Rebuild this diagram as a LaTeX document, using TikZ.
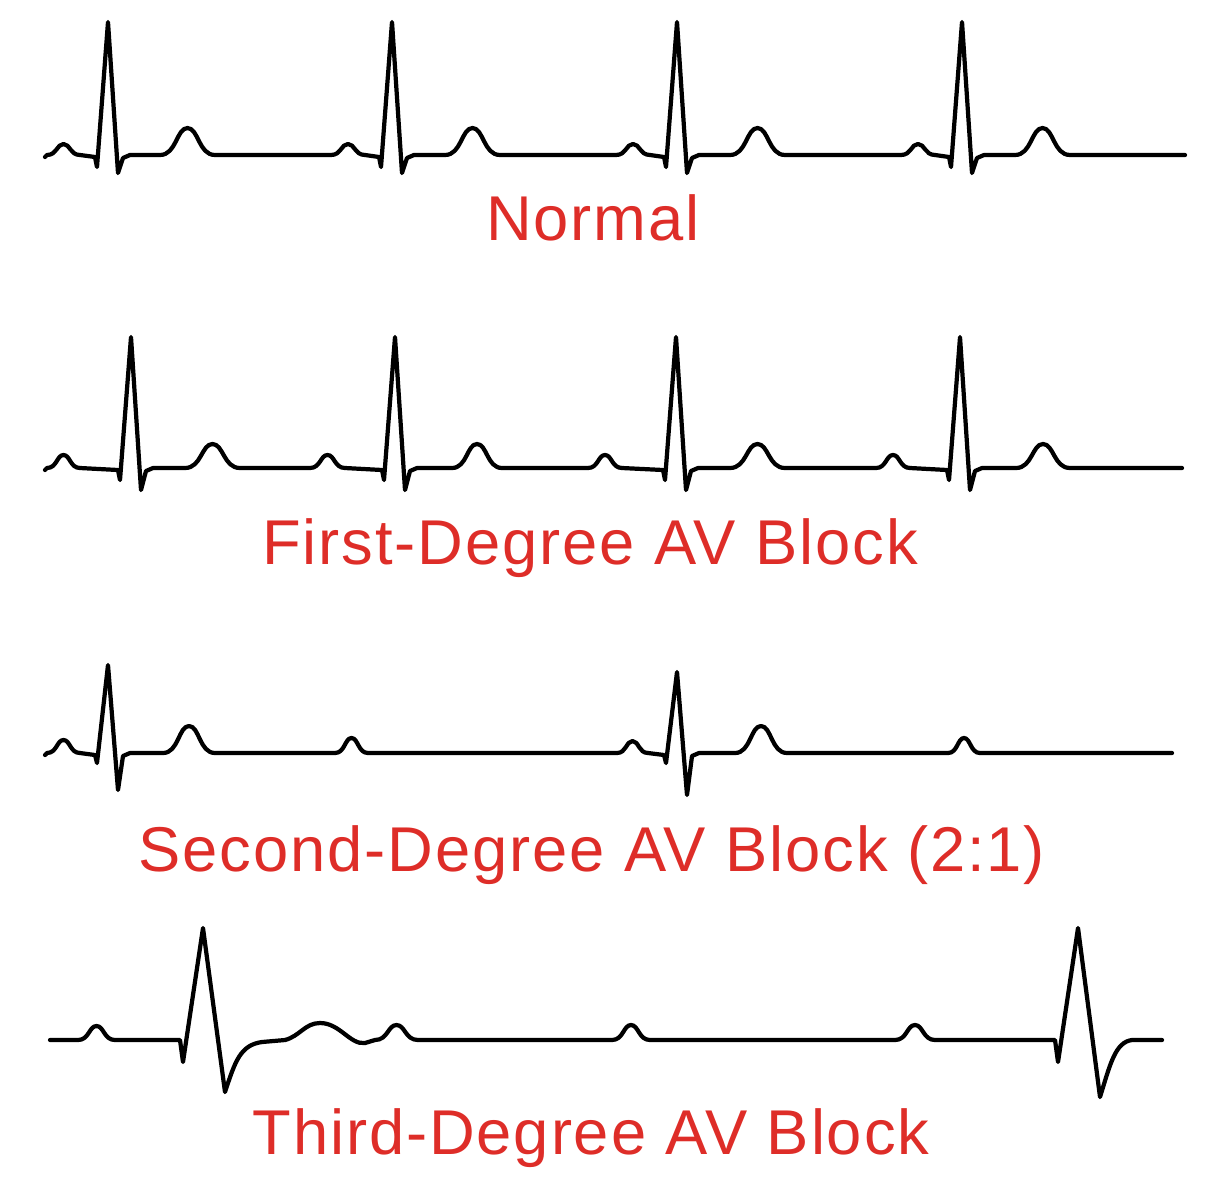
\documentclass[tikz,border=0pt]{standalone}
\usepackage{fontspec}
\setmainfont{Liberation Sans}[LetterSpace=3]
\definecolor{lab}{RGB}{222,45,40}
\newcommand\hump[4]{-- (#1,#3) .. controls ({#1+0.3*(#2-#1)},#3) and ({#1+0.3*(#2-#1)},{#3-#4}) .. ({(#1+#2)/2},{#3-#4}) .. controls ({#2-0.3*(#2-#1)},{#3-#4}) and ({#2-0.3*(#2-#1)},#3) .. (#2,#3)}
\newcommand\qrs[5]{-- ({#1-13},{#2+2}) -- ({#1-11},{#2+#4}) -- (#1,#3) -- ({#1+10},{#2+#5}) -- ({#1+15},{#2+3}) -- ({#1+22},#2)}
\begin{document}
\begin{tikzpicture}[x=0.01cm,y=-0.01cm,
  ecg/.style={line width=1.2pt,black,line join=round,line cap=round},
  lbl/.style={text=lab,font=\fontsize{18}{20}\selectfont}]
\useasboundingbox (0,0) rectangle (1228,1200);
% Normal
\draw[ecg] (45,157) \hump{47}{80}{155}{11} \qrs{108}{155}{22}{12}{18} \hump{160}{215}{155}{27}
  \hump{331}{365}{155}{11} \qrs{392}{155}{22}{12}{18} \hump{445}{500}{155}{27}
  \hump{616}{650}{155}{11} \qrs{677}{155}{22}{12}{18} \hump{730}{785}{155}{27}
  \hump{901}{935}{155}{11} \qrs{962}{155}{22}{12}{18} \hump{1015}{1070}{155}{27} -- (1185,155);
\node[lbl] (n1) at (593,218) {Normal};
% First degree
\draw[ecg] (45,470) \hump{47}{80}{468}{13} \qrs{131}{468}{337}{12}{22} \hump{185}{240}{468}{24}
  \hump{310}{345}{468}{13} \qrs{395}{468}{337}{12}{22} \hump{452}{502}{468}{24}
  \hump{588}{622}{468}{13} \qrs{676}{468}{337}{12}{22} \hump{730}{785}{468}{24}
  \hump{876}{910}{468}{13} \qrs{960}{468}{337}{12}{22} \hump{1016}{1070}{468}{24} -- (1182,468);
\node[lbl] (n2) at (590,548) {First-Degree AV Block};
% Second degree
\draw[ecg] (45,755) \hump{47}{80}{753}{13} \qrs{108}{753}{665}{10}{37} \hump{163}{215}{753}{27}
  \hump{335}{368}{753}{15} \hump{617}{648}{753}{12} \qrs{677}{753}{672}{10}{42} \hump{735}{787}{753}{27}
  \hump{948}{980}{753}{15} -- (1172,753);
\node[lbl] (n3) at (592,855) {Second-Degree AV Block (2:1)};
% Third degree
\draw[ecg] (50,1040) \hump{78}{115}{1040}{14} -- (180,1040) -- (183,1062) -- (203,928) -- (225,1092)
  .. controls (235,1062) and (240,1045) .. (262,1042) -- (285,1040)
  .. controls (300,1036) and (305,1023) .. (320,1023) .. controls (340,1023) and (350,1045) .. (365,1043)
  \hump{375}{418}{1040}{15} \hump{612}{650}{1040}{15} \hump{895}{935}{1040}{15}
  -- (1055,1040) -- (1058,1062) -- (1078,928) -- (1100,1097)
  .. controls (1110,1065) and (1115,1042) .. (1132,1040) -- (1162,1040);
\node[lbl] (n4) at (591,1138) {Third-Degree AV Block};
\end{tikzpicture}
\end{document}
